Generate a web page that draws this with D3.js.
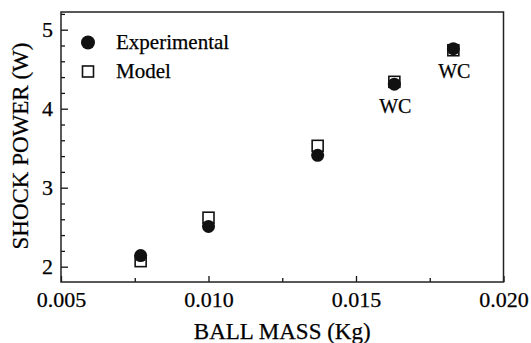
<!DOCTYPE html>
<html lang="en">
	<head>
		<meta charset="utf-8">
		<title>Shock power vs ball mass</title>
		<script src="https://d3js.org/d3.v7.min.js"></script>
		<style>
			body { margin: 0; background: white; }
			text { font-family: "Liberation Serif", "Times New Roman", serif; fill: #000; stroke: #000; stroke-width: 0.25; }
		</style>
	</head>
	<body>
		<script type="text/javascript">

			// data
			var ballMass = [0.0077, 0.0100, 0.0137, 0.0163, 0.0183];
			var experimental = [2.14, 2.51, 3.41, 4.31, 4.76];
			var model = [2.07, 2.62, 3.53, 4.34, 4.74];
			var wcLabels = ["", "", "", "WC", "WC"];
			var xTicks = [0.005, 0.010, 0.015, 0.020];
			var xMinor = [0.0075, 0.0125, 0.0175];
			var yTicks = [2, 3, 4, 5];
			var yMinor = [2.2, 2.4, 2.6, 2.8, 3.2, 3.4, 3.6, 3.8, 4.2, 4.4, 4.6, 4.8, 5.2];
			var legendItems = ["Experimental", "Model"];

			var w = 531;
			var h = 343;

			// scales
			var x_scale = d3.scaleLinear().domain([0.005, 0.020]).range([61, 503.5]);
			var y_scale = d3.scaleLinear().domain([1.806, 5.224]).range([282, 12]);

			var svg = d3.select("body").append("svg").attr("width", w).attr("height", h);
			svg.append("rect").attr("width", w).attr("height", h).attr("fill", "white");

			// axes, ticks pointing inward
			var x_axis = d3.axisBottom(x_scale).tickValues(xTicks).tickSize(-6).tickPadding(9).tickFormat(d3.format(".3f"));
			var x_minor = d3.axisBottom(x_scale).tickValues(xMinor).tickSize(-4).tickFormat("");
			var y_axis = d3.axisLeft(y_scale).tickValues(yTicks).tickSize(-7).tickPadding(8).tickFormat(d3.format("d"));
			var y_minor = d3.axisLeft(y_scale).tickValues(yMinor).tickSize(-4).tickFormat("");

			var gx = svg.append("g").attr("transform", "translate(0,282)").call(x_axis);
			svg.append("g").attr("transform", "translate(0,282)").call(x_minor);
			var gy = svg.append("g").attr("transform", "translate(61,0)").call(y_axis);
			svg.append("g").attr("transform", "translate(61,0)").call(y_minor);

			svg.selectAll(".domain").remove();
			svg.selectAll(".tick line").attr("stroke", "#111").attr("stroke-width", 1.3);
			gx.selectAll("text").attr("font-size", 22).attr("fill", "#000");
			gy.selectAll("text").attr("font-size", 22).attr("fill", "#000");

			// frame
			svg.append("rect").attr("x", 61).attr("y", 12).attr("width", 503.5 - 61).attr("height", 282 - 12)
				.attr("fill", "none").attr("stroke", "#222").attr("stroke-width", 1.5);

			// axis titles
			svg.append("text").text("BALL MASS (Kg)").attr("x", (61 + 503.5) / 2).attr("y", 339)
				.attr("text-anchor", "middle").attr("font-size", 23);
			svg.append("text").text("SHOCK POWER (W)").attr("transform", "translate(28,146) rotate(-90)")
				.attr("text-anchor", "middle").attr("font-size", 23);

			var pts = ballMass.map(function(m, i) {
				return { m: m, e: experimental[i], mo: model[i], lab: wcLabels[i] };
			});

			// model squares first, then experimental circles on top
			var sq = 11;
			svg.selectAll("rect.model").data(pts).enter().append("rect").attr("class", "model")
				.attr("x", function(d) { return x_scale(d.m) - sq / 2; })
				.attr("y", function(d) { return y_scale(d.mo) - sq / 2; })
				.attr("width", sq).attr("height", sq)
				.attr("fill", "white").attr("stroke", "#111").attr("stroke-width", 1.6);

			svg.selectAll("circle.exp").data(pts).enter().append("circle").attr("class", "exp")
				.attr("cx", function(d) { return x_scale(d.m); })
				.attr("cy", function(d) { return y_scale(d.e); })
				.attr("r", 6.5).attr("fill", "#111");

			svg.selectAll("text.wc").data(pts.filter(function(d) { return d.lab; })).enter().append("text").attr("class", "wc")
				.text(function(d) { return d.lab; })
				.attr("x", function(d) { return x_scale(d.m) + 1; })
				.attr("y", function(d) { return y_scale(d.e) + 29; })
				.attr("text-anchor", "middle").attr("font-size", 20);

			// legend
			var lg = svg.append("g");
			lg.append("circle").attr("cx", 88).attr("cy", 42.5).attr("r", 7).attr("fill", "#111");
			lg.append("rect").attr("x", 82.5).attr("y", 66).attr("width", 11).attr("height", 11)
				.attr("fill", "white").attr("stroke", "#111").attr("stroke-width", 1.6);
			lg.selectAll("text").data(legendItems).enter().append("text")
				.text(function(d) { return d; })
				.attr("x", 116).attr("y", function(d, i) { return 49 + i * 29; })
				.attr("font-size", 21);

		</script>
	</body>
</html>
